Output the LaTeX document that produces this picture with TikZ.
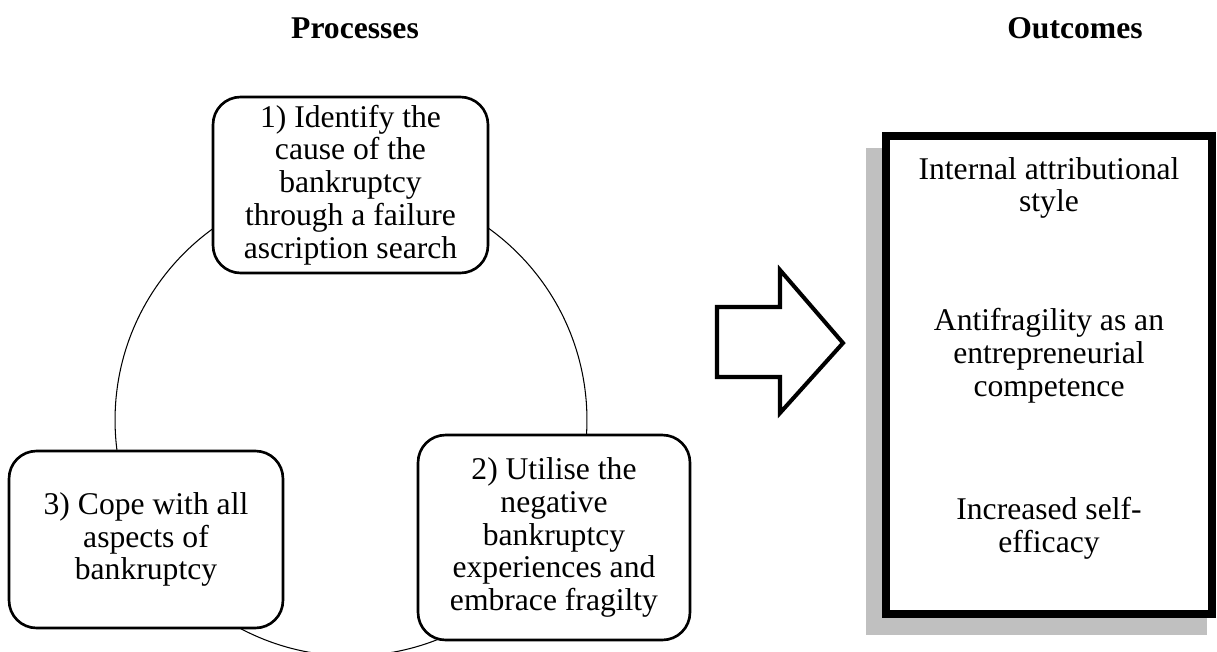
\documentclass[tikz,border=0pt]{standalone}
\usepackage{fontspec}
\setmainfont{Liberation Serif}
\definecolor{shadowgray}{RGB}{192,192,192}

\begin{document}
\begin{tikzpicture}[
        x=0.02cm, y=-0.02cm,
        every node/.style={font=\fontsize{18}{18.7}\selectfont},
        title/.style={font=\fontsize{18}{18.7}\selectfont\bfseries},
        process/.style={draw=black, fill=white, line width=1.5pt, rounded corners=0.55cm, align=center, inner sep=0pt},
        cycle_line/.style={line width=0.6pt, black},
        big_arrow/.style={draw=black, fill=white, line width=2.3pt, miter limit=10},
        outcome_box/.style={draw=black, fill=white, line width=4.5pt, inner sep=0pt},
        outcome/.style={align=center}
    ]

        \useasboundingbox (0,0) rectangle (1217,652);

        \node[title] (ptitle) at (355,28) {Processes};
        \node[title] (otitle) at (1075,28) {Outcomes};

        \draw[cycle_line] (351,420) circle[radius=4.72cm];

        \node[process, minimum width=5.5cm, minimum height=3.52cm] (proc1) at (350.5,185) {1) Identify the\\cause of the\\bankruptcy\\through a failure\\ascription search};
        \node[process, minimum width=5.44cm, minimum height=4.1cm] (proc2) at (554,537.5) {2) Utilise the\\negative\\bankruptcy\\experiences and\\embrace fragilty};
        \node[process, minimum width=5.48cm, minimum height=3.54cm] (proc3) at (146,539.5) {3) Cope with all\\aspects of\\bankruptcy};

        \draw[big_arrow] (717,307) -- (780,307) -- (780,270) -- (843,343) -- (780,413) -- (780,377) -- (717,377) -- cycle;

        \fill[shadowgray] (866,148) rectangle (1207,635);
        \node[outcome_box, minimum width=6.52cm, minimum height=9.56cm] (outbox) at (1049,375) {};

        \node[outcome] (out1) at (1049,188) {Internal attributional\\style};
        \node[outcome] (out2) at (1049,356) {Antifragility as an\\entrepreneurial\\competence};
        \node[outcome] (out3) at (1049,528) {Increased self-\\efficacy};
    \end{tikzpicture}
\end{document}
